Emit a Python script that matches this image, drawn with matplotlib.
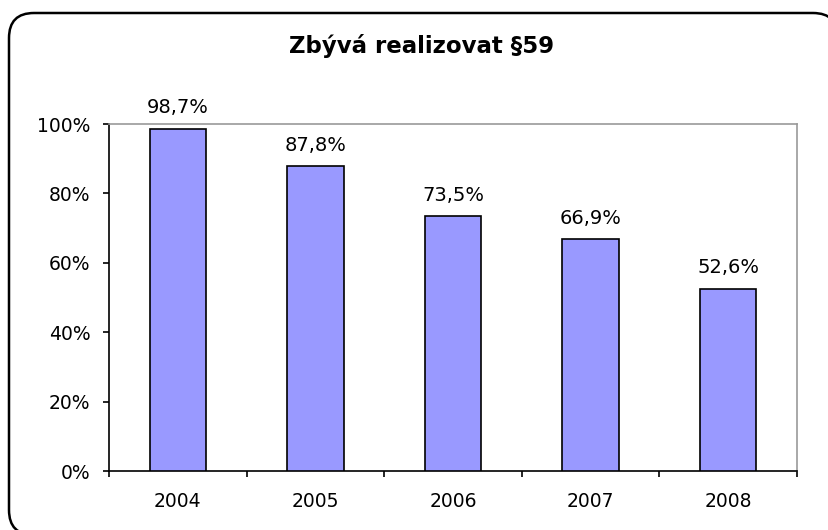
import matplotlib.pyplot as plt
from matplotlib.patches import FancyBboxPatch
from matplotlib.ticker import FixedLocator

# data
years = ['2004', '2005', '2006', '2007', '2008']
remaining = [98.7, 87.8, 73.5, 66.9, 52.6]
ytick_values = [0, 20, 40, 60, 80, 100]

fig = plt.figure(figsize=(8.29, 5.30), dpi=100)

# background axes in pixel units for the rounded chart border
bg = fig.add_axes([0, 0, 1, 1])
bg.set_xlim(0, 829)
bg.set_ylim(530, 0)
bg.axis('off')
# right and bottom edges run just off the canvas
border = FancyBboxPatch((9, 13), 829, 522,
                        boxstyle='round,pad=0,rounding_size=25',
                        facecolor='white', edgecolor='black', linewidth=1.8,
                        clip_on=False)
bg.add_patch(border)

ax = fig.add_axes([0.1315, 0.111, 0.83, 0.655])
ax.set_zorder(2)
ax.set_facecolor('white')

x = list(range(len(years)))
bars = ax.bar(x, remaining, width=0.41, color='#9999FF', edgecolor='black',
              linewidth=1.2, zorder=3)

for xi, v in zip(x, remaining):
    ax.annotate(f'{v:.1f}%'.replace('.', ','), (xi, v), xytext=(0, 8),
                textcoords='offset points', ha='center', va='bottom',
                fontsize=14)

ax.set_xlim(-0.5, len(years) - 0.5)
ax.set_ylim(0, 100)
ax.set_yticks(ytick_values)
ax.set_yticklabels([f'{v}%' for v in ytick_values], fontsize=13.5)
ax.set_xticks(x)
ax.set_xticklabels(years, fontsize=13.5)
ax.tick_params(axis='x', length=0, pad=15)
ax.tick_params(axis='y', length=4.5, width=1.2, direction='out', pad=9)
ax.xaxis.set_minor_locator(FixedLocator([i - 0.5 for i in range(len(years) + 1)]))
ax.tick_params(axis='x', which='minor', length=4.5, width=1.2, direction='out')

for side in ['left', 'bottom']:
    ax.spines[side].set_linewidth(1.2)
    ax.spines[side].set_color('black')
for side in ['top', 'right']:
    ax.spines[side].set_linewidth(1.2)
    ax.spines[side].set_color('#999999')

fig.text(0.508, 0.914, 'Zbývá realizovat §59', ha='center', va='center',
         fontsize=16.5, fontweight='bold')

plt.savefig('out.png', dpi=100)
